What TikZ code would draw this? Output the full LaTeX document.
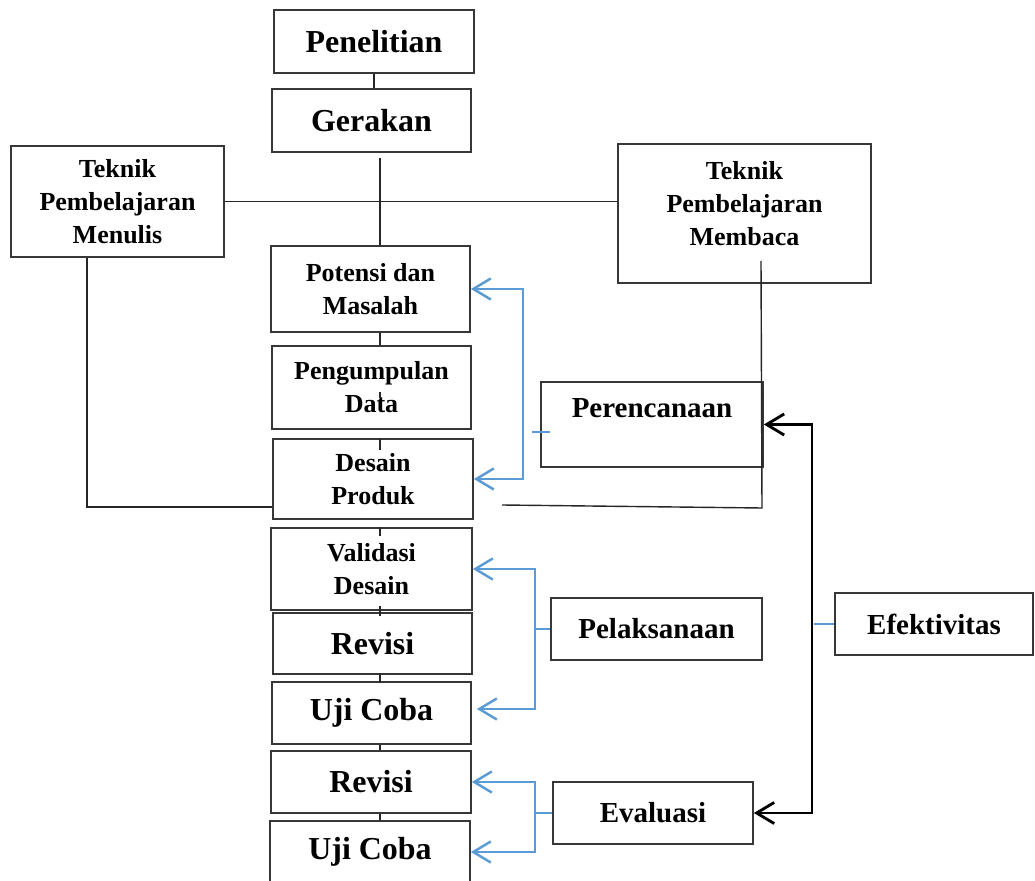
\documentclass[tikz,border=0pt]{standalone}
\usepackage{fontspec}
\setmainfont{Liberation Serif}
\usepackage{xcolor}
\usepackage{tikz}
\usetikzlibrary{arrows.meta,calc}
\definecolor{wordblue}{RGB}{91,155,213}
\definecolor{boxgray}{RGB}{55,55,55}

\begin{document}
\begin{tikzpicture}[x=0.02cm,y=-0.02cm,
  >={Straight Barb[length=10pt,width=12pt]},
  wh/.style 2 args={minimum width=#1*0.02cm,minimum height=#2*0.02cm},
  box/.style={draw=boxgray,line width=1pt,fill=white,align=center,inner sep=0pt,
    font=\fontsize{14.8}{18.8}\selectfont\bfseries},
  bigbox/.style={box,font=\fontsize{18.2}{22}\selectfont\bfseries},
  midbox/.style={box,font=\fontsize{16.5}{20}\selectfont\bfseries},
  lbl/.style={align=center,inner sep=0pt,font=\fontsize{14.8}{18.8}\selectfont\bfseries},
  link/.style={line width=0.8pt,draw=black!85},
  bluelink/.style={draw=wordblue,line width=1.4pt},
  bluetick/.style={draw=wordblue,line width=0.6pt},
  blacklink/.style={draw=black,line width=1.6pt}]
\clip (0,0) rectangle (1035,881);
\node[bigbox,wh={200}{63}] (penelitian) at (374,41.5) {Penelitian};
\node[bigbox,wh={199}{63}] (gerakan) at (371.5,120.5) {Gerakan};
\node[box,wh={213}{111}] (menulis) at (117.5,201.5) {Teknik\\Pembelajaran\\Menulis};
\node[box,wh={253}{139},label={[lbl,yshift=0.19cm]center:Teknik\\Pembelajaran\\Membaca}] (membaca) at (744.5,213.5) {};
\node[box,wh={199}{86}] (potensi) at (370.5,289) {Potensi dan\\Masalah};
\node[box,wh={199}{83}] (pengumpulan) at (371.5,387.5) {Pengumpulan\\Data};
\node[box,wh={200}{80}] (desain) at (373,479) {Desain\\Produk};
\node[box,wh={201}{82}] (validasi) at (371.5,569) {Validasi\\Desain};
\node[bigbox,wh={199}{61}] (revisiA) at (372.5,643.5) {Revisi};
\node[bigbox,wh={199}{62}] (ujiA) at (371.5,713) {Uji Coba};
\node[bigbox,wh={200}{62}] (revisiB) at (371,782) {Revisi};
\node[bigbox,wh={200}{62}] (ujiB) at (370,852) {Uji Coba};
\node[box,wh={222}{85},label={[lbl,font=\fontsize{16.5}{20}\selectfont\bfseries,yshift=0.33cm]center:Perencanaan}] (perencanaan) at (652,424.5) {};
\node[midbox,wh={211}{62}] (pelaksanaan) at (656.5,629) {Pelaksanaan};
\node[midbox,wh={200}{62}] (evaluasi) at (653,813) {Evaluasi};
\node[midbox,wh={198}{62}] (efektivitas) at (934,624) {Efektivitas};

\coordinate (spine) at (380,0);
\coordinate (wcorner) at (87,507);
\coordinate (mtop) at (761,261);
\coordinate (ecorner) at (762,508);
\coordinate (dend) at (502,505);
\coordinate (bA) at (523,0);
\coordinate (bB) at (535,0);
\coordinate (bK) at (812,0);

\draw[link] (penelitian) -- (penelitian |- gerakan.north);
\draw[link] ($(gerakan.south -| spine)+(0,5)$) -- (potensi.north -| spine);
\draw[link] (menulis.east) -- (menulis.east -| membaca.west);
\draw[link] (menulis.south -| wcorner) -- (wcorner) -- (wcorner -| desain.west);
\draw[link] (mtop) -- (ecorner) -- (dend);
\foreach \a/\b/\s/\t in {potensi/pengumpulan/0/0, desain/validasi/7/9, validasi/revisiA/-5/4,
  revisiA/ujiA/-2/2, ujiA/revisiB/0/0, revisiB/ujiB/0/0}
  \draw[link] ($(\a.south -| spine)+(0,\s)$) -- ($(\b.north -| spine)+(0,\t)$);
\draw[link] (desain.north -| spine) -- ++(0,12);
\draw[link] ($(pengumpulan.center -| spine)+(0,4.5)$) -- ++(0,6);

\draw[bluelink,<->] (potensi.east) -- (potensi.east -| bA) -- (desain.east -| bA) -- (desain.east);
\draw[bluetick] ($(perencanaan.west)+(-8,7.5)$) -- ++(18,0);
\draw[bluelink,<->] (validasi.east) -- (validasi.east -| bB) -- ($(ujiA.east -| bB)+(0,-4)$) -- ($(ujiA.east)+(5,-4)$);
\draw[bluetick] (pelaksanaan.west) -- (pelaksanaan.west -| bB);
\draw[bluelink,<->] (revisiB.east) -- (revisiB.east -| bB) -- (ujiB.east -| bB) -- (ujiB.east);
\draw[bluetick] (evaluasi.west) -- (evaluasi.west -| bB);
\draw[blacklink,<->] (perencanaan.east) -- (perencanaan.east -| bK) -- (evaluasi.east -| bK) -- (evaluasi.east);
\draw[bluetick] (efektivitas.west) -- ($(efektivitas.west -| bK)+(2,0)$);
\end{tikzpicture}
\end{document}
